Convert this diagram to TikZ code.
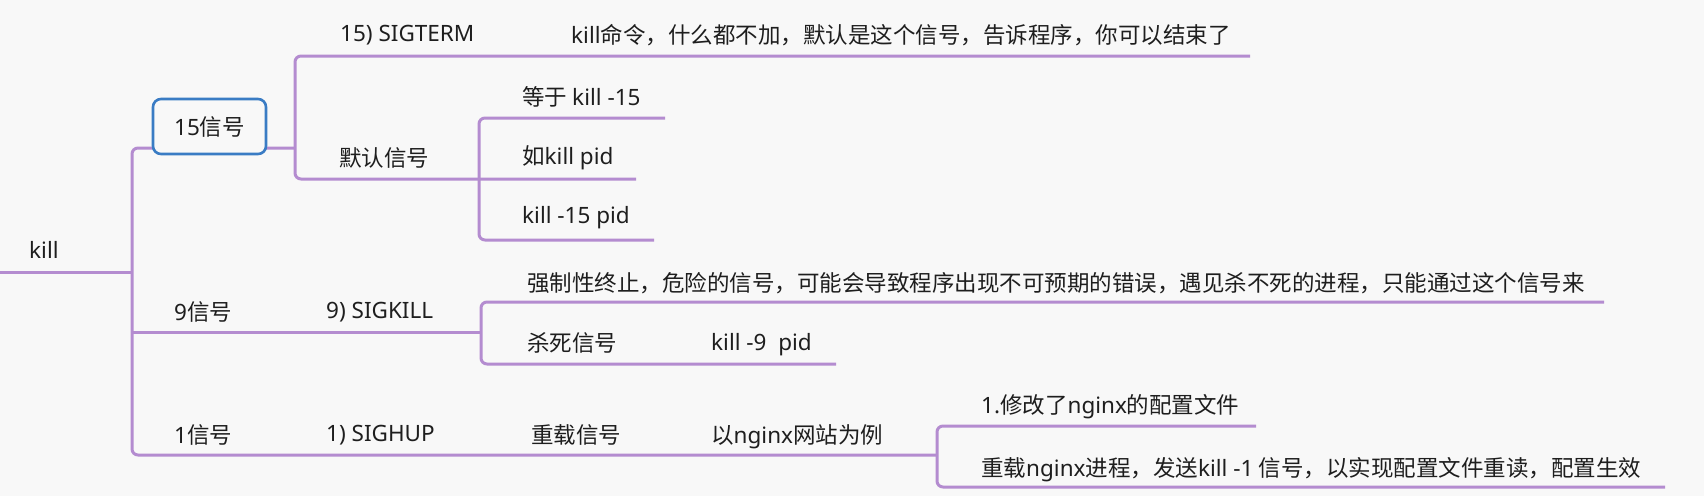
\documentclass[tikz,border=0pt]{standalone}
\usepackage{fontspec}
\setmainfont{Noto Sans CJK SC}
\newfontfamily\lat{Noto Sans}
\definecolor{bgc}{RGB}{248,248,248}
\definecolor{branchc}{RGB}{180,140,208}
\definecolor{boxc}{RGB}{58,124,196}
\definecolor{txtc}{RGB}{30,30,30}
\tikzset{
  lbl/.style={anchor=west, inner sep=0pt, text=txtc, font=\fontsize{22.5}{27}\selectfont},
  branch/.style={draw=branchc, line width=3pt, rounded corners=6pt},
  focusbox/.style={draw=boxc, line width=2.6pt, rounded corners=8pt, fill=bgc,
    minimum width=113pt, minimum height=55pt, inner sep=0pt, text=txtc,
    font=\fontsize{22.5}{27}\selectfont}
}
\begin{document}
\begin{tikzpicture}[x=1pt,y=-1pt]
\fill[bgc] (0,0) rectangle (1704,496);
\useasboundingbox (0,0) rectangle (1704,496);

% junction coordinates
\coordinate (rootend) at (0,272);
\coordinate (trunk) at (132,272);
\coordinate (j15) at (295,148);
\coordinate (jdef) at (479,179);
\coordinate (j9) at (481,332);
\coordinate (j1) at (937,455);

% connectors
\draw[branch] (rootend) -- (trunk);
\draw[branch] (j15) -- (132,148) -- (132,455) -- (j1);
\draw[branch] (trunk |- j9) -- (j9);
\draw[branch] (1250,56) -- (295,56) -- (295,179) -- (636,179);
\draw[branch] (665,118) -- (479,118) -- (479,240) -- (654,240);
\draw[branch] (1604,302) -- (481,302) -- (481,364) -- (836,364);
\draw[branch] (1256,426) -- (937,426) -- (937,487) -- (1665,487);

% root
\node[lbl] (kill) at (29,250) {\lat kill};

% 15 branch
\node[focusbox] (s15) at (209.5,126.5) {{\lat 15}信号};
\node[lbl] (sigterm) at (340,35) {\lat 15) SIGTERM};
\node[lbl] (termdesc) at (571,35) {{\lat kill}命令，什么都不加，默认是这个信号，告诉程序，你可以结束了};
\node[lbl] (default) at (339,158) {默认信号};
\node[lbl] (eq15) at (522,97) {等于 {\lat kill -15}};
\node[lbl] (ru) at (522,158) {如{\lat kill pid}};
\node[lbl] (k15) at (522,218) {\lat kill -15 pid};

% 9 branch
\node[lbl] (s9) at (174,312) {{\lat 9}信号};
\node[lbl] (sigkill) at (326,312) {\lat 9) SIGKILL};
\node[lbl] (killdesc) at (527,283) {强制性终止，危险的信号，可能会导致程序出现不可预期的错误，遇见杀不死的进程，只能通过这个信号来};
\node[lbl] (shasi) at (527,343) {杀死信号};
\node[lbl] (k9) at (711,345) {\lat kill -9\ \ pid};

% 1 branch
\node[lbl] (s1) at (174,435) {{\lat 1}信号};
\node[lbl] (sighup) at (326,435) {\lat 1) SIGHUP};
\node[lbl] (reload) at (531,435) {重载信号};
\node[lbl] (nginx) at (711,437) {以{\lat nginx}网站为例};
\node[lbl] (mod) at (981,407) {{\lat 1.}修改了{\lat nginx}的配置文件};
\node[lbl] (reld) at (981,470) {重载{\lat nginx}进程，发送{\lat kill -1} 信号，以实现配置文件重读，配置生效};
\end{tikzpicture}
\end{document}
